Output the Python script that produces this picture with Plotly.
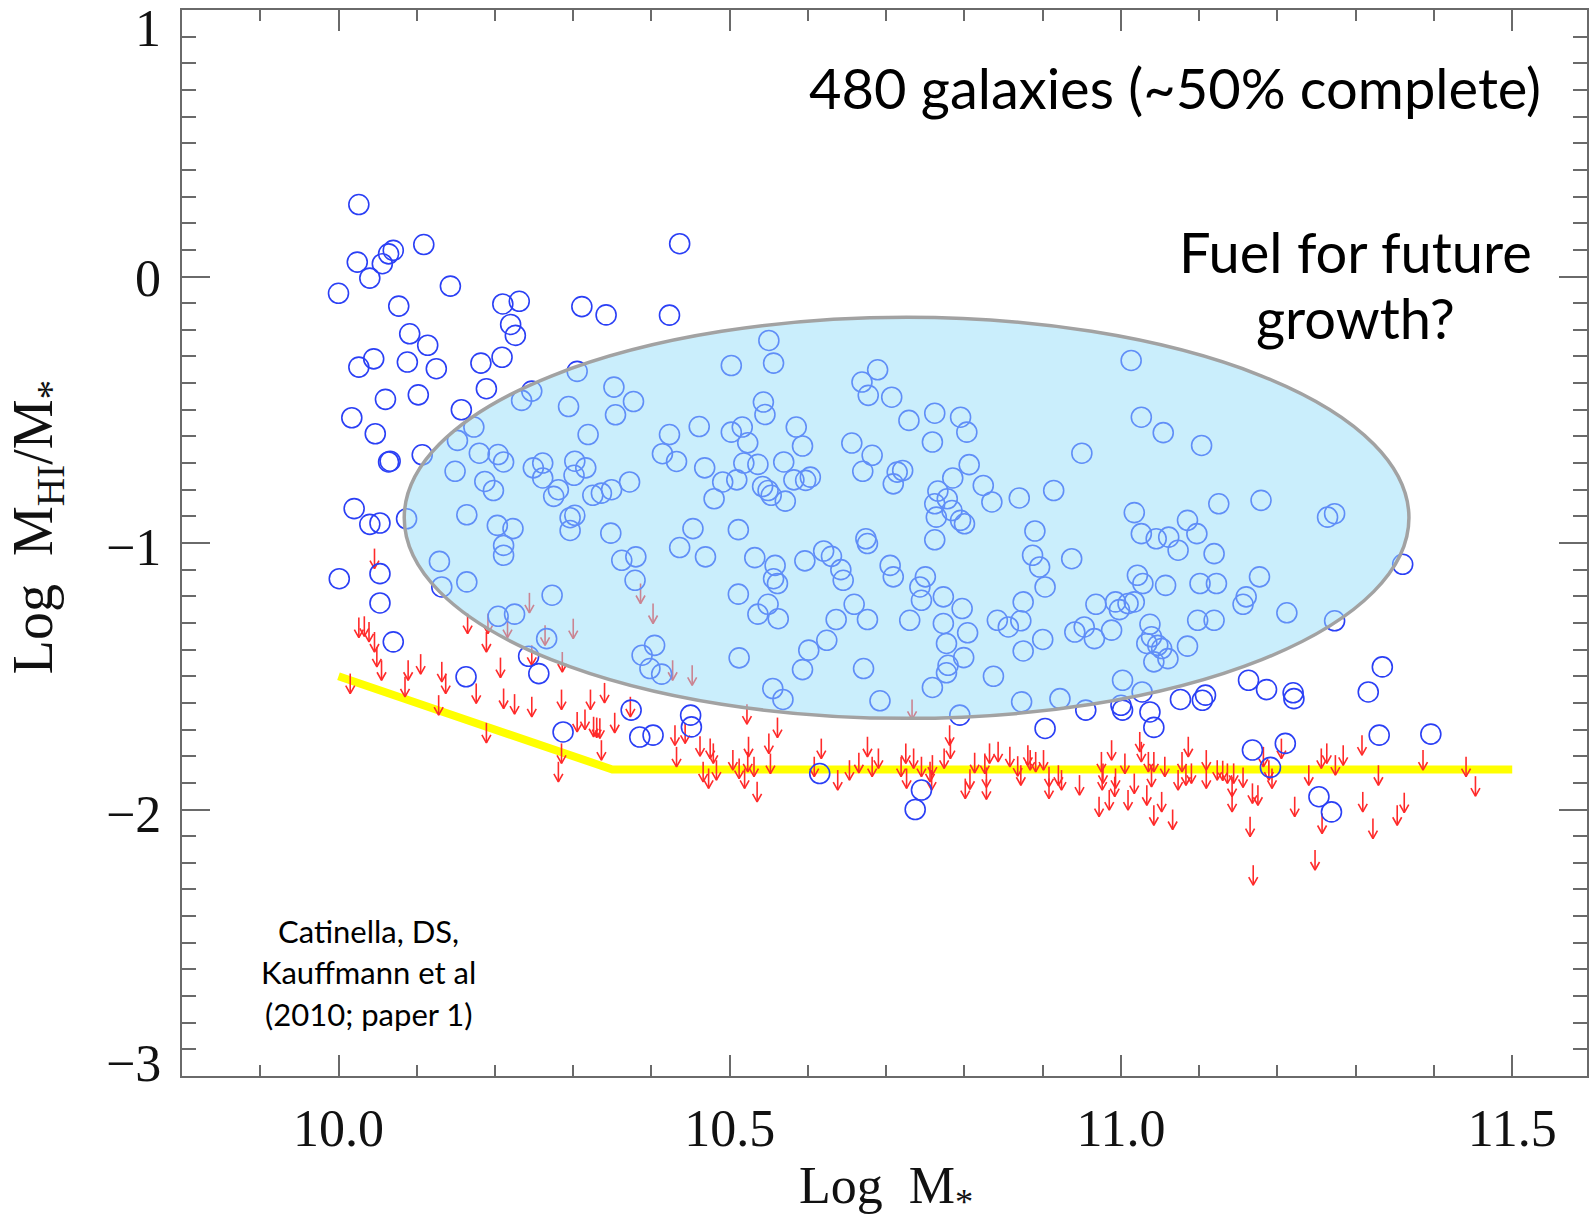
import plotly.graph_objects as go

# ---------------- data ----------------
det_x = [10.026,10.064,10.070,10.109,10.024,10.056,10.040,10.000,10.143,10.077,10.210,10.231,10.311,10.342,10.423,10.436,
         10.220,10.226,10.091,10.114,10.045,10.026,10.088,10.125,10.182,10.209,10.189,10.060,10.102,10.017,10.047,10.157,
         10.064,10.066,10.107,10.020,10.040,10.053,10.087,10.173,10.152,10.180,10.204,10.211,10.149,10.187,10.198,10.164,
         10.203,10.223,10.234,10.247,10.305,10.294,10.352,10.377,10.354,10.319,10.249,10.261,10.261,10.302,10.316,10.301,
         10.281,10.275,10.325,10.336,10.349,10.372,10.296,10.302,10.296,10.348,10.550,10.556,10.502,10.543,10.545,10.461,
         10.423,10.414,10.432,10.468,10.502,10.516,10.523,10.518,10.536,10.491,10.509,10.480,10.542,10.549,10.553,10.571,
         10.569,10.585,10.593,10.582,10.597,10.603,10.453,10.511,10.669,10.689,10.677,10.707,10.656,10.682,10.670,10.714,
         10.709,
         11.013,10.729,10.762,10.795,10.803,10.759,11.026,11.054,11.103,10.950,10.721,10.806,10.785,10.766,10.824,10.835,
         10.870,10.914,10.762,10.778,10.784,10.764,10.795,10.800,10.890,11.017,11.125,11.179,11.085,11.264,11.273,11.026,
         11.061,11.097,11.045,10.762,
         10.001,10.053,10.053,10.070,10.129,10.132,10.164,10.211,10.211,10.204,10.225,10.273,10.266,10.243,10.256,10.163,
         10.287,10.362,10.380,10.379,10.436,10.469,10.532,10.558,10.556,10.561,10.511,10.549,10.536,10.562,10.596,10.620,
         10.630,10.642,10.645,10.674,10.676,10.705,10.709,10.659,10.676,10.636,10.624,10.601,10.593,10.671,10.512,10.555,
         10.568,10.692,10.404,10.388,10.398,10.413,10.374,10.450,10.451,10.385,10.402,10.615,
         10.750,10.743,10.745,10.773,10.797,10.730,10.773,10.804,10.777,10.799,10.779,10.777,10.759,10.837,10.794,10.873,
         10.922,10.955,10.903,10.842,10.856,10.872,10.875,10.875,10.900,10.903,10.896,10.887,10.937,10.941,10.953,10.966,
         10.968,10.988,10.993,10.998,11.009,11.017,11.073,11.119,11.021,11.028,11.057,11.101,11.122,11.177,11.160,11.156,
         11.212,11.037,11.098,11.119,11.039,11.033,11.047,11.052,11.085,11.042,11.060,11.273,11.360,11.002,11.027,11.000,
         11.002,11.037,11.042,11.076,11.104,11.108,11.163,11.186,11.220,11.221,11.334,11.316,11.330,11.396,11.168,11.210,
         11.191,10.745,10.737,11.253,11.269]
det_y = [0.270,0.085,0.098,0.120,0.054,0.048,-0.006,-0.063,-0.036,-0.111,-0.103,-0.093,-0.113,-0.144,-0.145,0.123,
         -0.180,-0.221,-0.215,-0.258,-0.309,-0.340,-0.321,-0.346,-0.325,-0.303,-0.421,-0.461,-0.444,-0.530,-0.590,-0.500,
         -0.696,-0.693,-0.669,-0.871,-0.930,-0.925,-0.909,-0.565,-0.615,-0.663,-0.668,-0.696,-0.731,-0.769,-0.803,-0.894,
         -0.934,-0.946,-0.465,-0.430,-0.356,-0.488,-0.415,-0.469,-0.519,-0.593,-0.718,-0.700,-0.756,-0.693,-0.718,-0.746,
         -0.800,-0.825,-0.821,-0.813,-0.800,-0.771,-0.905,-0.896,-0.953,-0.963,-0.240,-0.325,-0.334,-0.471,-0.518,-0.563,
         -0.593,-0.665,-0.694,-0.718,-0.584,-0.565,-0.624,-0.700,-0.705,-0.771,-0.763,-0.834,-0.788,-0.803,-0.821,-0.843,
         -0.696,-0.565,-0.636,-0.763,-0.765,-0.753,-0.946,-0.950,-0.396,-0.350,-0.446,-0.453,-0.625,-0.671,-0.731,-0.734,
         -0.778,
         -0.315,-0.540,-0.513,-0.528,-0.584,-0.621,-0.528,-0.586,-0.634,-0.663,-0.728,-0.706,-0.756,-0.805,-0.784,-0.846,
         -0.831,-0.803,-0.853,-0.834,-0.878,-0.903,-0.915,-0.928,-0.955,-0.886,-0.853,-0.840,-0.915,-0.903,-0.890,-0.965,
         -0.978,-0.965,-0.984,-0.988,
         -1.134,-1.115,-1.225,-1.371,-1.069,-1.165,-1.146,-1.046,-1.009,-1.275,-1.267,-1.196,-1.359,-1.425,-1.490,-1.502,
         -1.709,-1.065,-1.052,-1.140,-1.017,-1.052,-1.055,-1.084,-1.134,-1.152,-1.192,-1.230,-1.267,-1.284,-1.067,-1.030,
         -1.050,-1.100,-1.140,-0.984,-1.002,-1.084,-1.127,-1.230,-1.287,-1.287,-1.365,-1.402,-1.475,-1.471,-1.431,-1.546,
         -1.587,-1.592,-1.384,-1.421,-1.471,-1.492,-1.627,-1.646,-1.690,-1.728,-1.721,-1.865,
         -1.127,-1.165,-1.215,-1.202,-1.246,-1.290,-1.302,-1.337,-1.377,-1.430,-1.459,-1.487,-1.542,-1.500,-1.646,-1.596,
         -1.584,-1.627,-1.696,-1.290,-1.315,-1.292,-1.221,-1.405,-1.362,-1.165,-1.090,-1.046,-1.059,-1.334,-1.315,-1.359,
         -1.230,-1.327,-1.221,-1.250,-1.227,-1.221,-1.027,-1.040,-1.121,-1.152,-1.159,-1.152,-1.152,-1.127,-1.202,-1.230,
         -1.262,-1.305,-1.290,-1.290,-1.352,-1.377,-1.384,-1.396,-1.387,-1.446,-1.434,-1.292,-1.080,-1.515,-1.559,-1.609,
         -1.627,-1.634,-1.692,-1.587,-1.590,-1.571,-1.515,-1.550,-1.562,-1.584,-1.465,-1.559,-1.721,-1.717,-1.777,-1.752,
         -1.842,-1.927,-2.000,-1.952,-2.009]

# upper limits (top of each arrow)
lim_x = [10.046,10.026,10.033,10.039,10.046,10.049,10.055,10.015,10.089,10.105,10.085,10.132,10.137,10.128,10.165,10.191,
         10.216,10.189,10.176,10.207,10.211,10.225,10.189,10.247,10.244,10.264,10.300,10.247,10.286,10.285,10.285,10.281,
         10.305,10.315,10.322,10.340,10.326,10.330,10.334,10.353,10.336,10.373,10.386,10.402,10.427,10.452,10.430,10.443,
         10.432,10.462,10.475,10.479,10.466,10.473,10.483,10.504,10.512,10.522,10.524,10.523,10.531,10.519,10.535,10.550,
         10.552,10.561,10.608,10.617,10.638,10.653,10.665,10.676,10.682,10.690,
         10.733,10.781,10.782,10.725,10.735,10.719,10.745,10.759,10.756,10.726,10.758,10.774,10.813,10.826,10.832,10.843,
         10.828,10.807,10.801,10.828,10.858,10.868,10.872,10.881,10.884,10.891,10.901,10.908,10.908,10.920,10.924,10.947,
         10.975,10.977,10.976,10.988,10.993,10.992,11.005,11.017,11.009,10.972,10.985,11.024,11.026,11.035,11.042,11.033,
         11.039,11.056,11.052,11.042,11.066,11.078,11.086,11.073,11.083,11.090,11.109,11.109,11.123,11.130,11.136,11.144,
         11.142,11.142,11.156,11.168,11.175,11.165,11.169,11.189,11.193,11.182,11.205,11.240,11.222,11.248,11.257,11.256,
         11.263,11.274,11.284,11.308,11.309,11.322,11.329,11.353,11.362,11.386,11.441,11.453]
lim_y = [-1.021,-1.280,-1.275,-1.296,-1.334,-1.390,-1.440,-1.490,-1.440,-1.417,-1.502,-1.446,-1.490,-1.571,-1.265,-1.265,
         -1.280,-1.334,-1.527,-1.430,-1.546,-1.567,-1.675,-1.577,-1.187,-1.309,-1.284,-1.384,-1.409,-1.550,-1.752,-1.821,
         -1.634,-1.625,-1.550,-1.525,-1.652,-1.655,-1.658,-1.637,-1.740,-1.577,-1.152,-1.227,-1.440,-1.459,-1.684,-1.677,
         -1.765,-1.725,-1.734,-1.752,-1.821,-1.846,-1.815,-1.777,-1.809,-1.605,-1.727,-1.784,-1.802,-1.846,-1.896,-1.715,
         -1.790,-1.655,-1.802,-1.734,-1.852,-1.815,-1.787,-1.727,-1.802,-1.771,
         -1.587,-1.684,-1.734,-1.752,-1.771,-1.802,-1.802,-1.796,-1.821,-1.846,-1.852,-1.771,-1.787,-1.790,-1.752,-1.746,
         -1.842,-1.849,-1.884,-1.887,-1.765,-1.800,-1.834,-1.759,-1.777,-1.784,-1.777,-1.840,-1.884,-1.834,-1.852,-1.871,
         -1.784,-1.827,-1.852,-1.740,-1.846,-1.877,-1.790,-1.865,-1.927,-1.952,-1.927,-1.709,-1.746,-1.784,-1.784,-1.909,
         -1.840,-1.802,-1.934,-1.984,-2.000,-1.784,-1.727,-1.852,-1.834,-1.827,-1.777,-1.846,-1.815,-1.817,-1.827,-1.827,
         -1.877,-1.934,-1.842,-1.902,-1.909,-2.027,-2.209,-1.815,-1.846,-1.765,-1.734,-1.834,-1.952,-2.152,-2.015,-1.771,
         -1.752,-1.796,-1.759,-1.721,-1.934,-2.034,-1.834,-1.984,-1.937,-1.777,-1.802,-1.875]

# gas-fraction limit line
limit_line_x = [10.0, 10.35, 11.5]
limit_line_y = [-1.50, -1.85, -1.85]

# highlighted region (ellipse bounds)
ell_x = [10.084, 11.368]
ell_y = [-1.658, -0.153]

x_tick_vals = [10.0, 10.5, 11.0, 11.5]
x_tick_text = ["10.0", "10.5", "11.0", "11.5"]
y_tick_vals = [1, 0, -1, -2, -3]
y_tick_text = ["1", "0", "\u22121", "\u22122", "\u22123"]

# ---------------- layout geometry ----------------
W, H = 1589, 1222
ML, MR, MT, MB = 182, 0, 10, 146
PW, PH = W - ML - MR, H - MT - MB
XPPU = 783.6                       # px per unit on x
XR = [9.8, 9.8 + PW / XPPU]
YR = [-3.0, 1.0]
YPPU = PH / (YR[1] - YR[0])

def px2px(px):  # pixel x -> paper
    return (px - ML) / PW
def py2py(py):  # pixel y -> paper
    return (H - MB - py) / PH

SERIF = "Liberation Serif"
SANS = "Lato"
AXC = "#6a6a6a"

# arrows built from the limit values
shaft = 20 / YPPU
hw = 4.5 / XPPU
hh = 8 / YPPU
ax, ay = [], []
for x, y in zip(lim_x, lim_y):
    tip = y - shaft
    ax += [x, x, None, x - hw, x, x + hw, None]
    ay += [y, tip, None, tip + hh, tip, tip + hh, None]

fig = go.Figure()
fig.add_trace(go.Scatter(x=limit_line_x, y=limit_line_y, mode="lines",
                         line=dict(color="#ffff00", width=8), hoverinfo="skip"))
fig.add_trace(go.Scatter(x=ax, y=ay, mode="lines",
                         line=dict(color="#ff2a2a", width=1.6), hoverinfo="skip"))
fig.add_trace(go.Scatter(x=det_x, y=det_y, mode="markers",
                         marker=dict(symbol="circle-open", size=20, color="#2a3ff5",
                                     line=dict(width=1.6, color="#2a3ff5"))))

fig.add_shape(type="circle", xref="x", yref="y", x0=ell_x[0], x1=ell_x[1], y0=ell_y[0], y1=ell_y[1],
              fillcolor="rgba(150,222,250,0.5)", line=dict(color="#a2a2a2", width=3.5), layer="above")

ann = []
shifts = {1: -18, 0: -2, -1: -4, -2: -5, -3: 13}
for v, t in zip(y_tick_vals, y_tick_text):
    ann.append(dict(xref="paper", yref="y", x=0, y=v, text=t, showarrow=False, xanchor="right",
                    yanchor="middle", xshift=-19, yshift=shifts[v],
                    font=dict(family=SERIF, size=52, color="#111")))

ann.append(dict(xref="paper", yref="paper", x=px2px(887), y=py2py(1189), text="Log&nbsp;&nbsp;M<sub>*</sub>",
                showarrow=False, xanchor="center", yanchor="middle",
                font=dict(family=SERIF, size=52, color="#111")))
ann.append(dict(xref="paper", yref="paper", x=px2px(37), y=py2py(527), text="Log&nbsp;&nbsp;M<sub>HI</sub>/M<sub>*</sub>",
                showarrow=False, xanchor="center", yanchor="middle", textangle=-90,
                font=dict(family=SERIF, size=56, color="#111")))

ann.append(dict(xref="paper", yref="paper", x=px2px(1545), y=py2py(88), text="480 galaxies (~50% complete)",
                showarrow=False, xanchor="right", yanchor="middle", font=dict(family=SANS, size=56, color="#000")))
for txt, yy in [("Fuel for future", 251), ("growth?", 317)]:
    ann.append(dict(xref="paper", yref="paper", x=px2px(1357), y=py2py(yy), text=txt,
                    showarrow=False, xanchor="center", yanchor="middle", font=dict(family=SANS, size=56, color="#000")))
for txt, yy in [("Catinella, DS,", 931), ("Kauffmann et al", 972), ("(2010; paper 1)", 1014)]:
    ann.append(dict(xref="paper", yref="paper", x=px2px(369), y=py2py(yy), text=txt,
                    showarrow=False, xanchor="center", yanchor="middle", font=dict(family=SANS, size=31, color="#000")))

fig.update_layout(
    width=W, height=H, autosize=False,
    margin=dict(l=ML, r=MR, t=MT, b=MB, pad=0),
    paper_bgcolor="white", plot_bgcolor="white",
    showlegend=False, annotations=ann,
    xaxis=dict(range=XR, showgrid=False, zeroline=False, showline=True, linecolor=AXC, linewidth=2,
               mirror="ticks", ticks="inside", ticklen=21, tickwidth=2, tickcolor=AXC,
               tickvals=x_tick_vals, ticktext=x_tick_text, ticklabelstandoff=6,
               tickfont=dict(family=SERIF, size=52, color="#111"),
               minor=dict(ticks="inside", ticklen=11, tickwidth=2, tickcolor=AXC, dtick=0.1, tick0=10.0, showgrid=False)),
    yaxis=dict(range=YR, showgrid=False, zeroline=False, showline=True, linecolor=AXC, linewidth=2,
               mirror="ticks", ticks="inside", ticklen=28, tickwidth=2, tickcolor=AXC,
               tickvals=y_tick_vals, showticklabels=False,
               minor=dict(ticks="inside", ticklen=14, tickwidth=2, tickcolor=AXC, dtick=0.1, tick0=0, showgrid=False)),
)

fig.write_html("out.html")
